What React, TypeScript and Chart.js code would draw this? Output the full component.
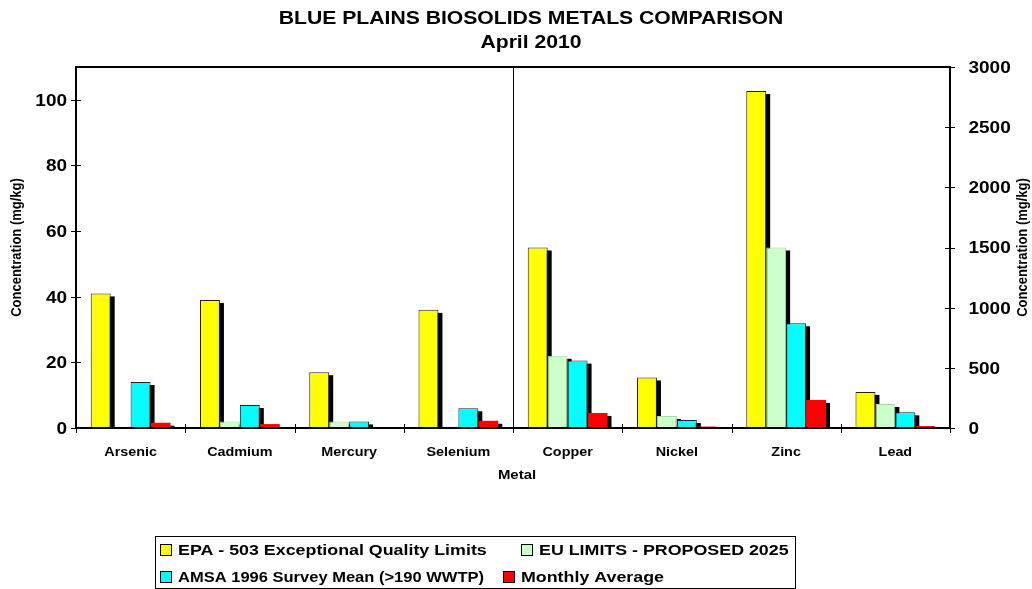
import React, { useEffect, useRef } from 'react';
import { Chart, registerables } from 'chart.js';

Chart.register(...registerables);

// ---------------- data ----------------
const metals = ['Arsenic', 'Cadmium', 'Mercury', 'Selenium', 'Copper', 'Nickel', 'Zinc', 'Lead'];
const leftMetalCount = 4; // first four metals use the left axis, the rest the right axis
const epaLimits = [41, 39, 17, 36, 1500, 420, 2800, 300];
const euLimits = [0, 2, 2, 0, 600, 100, 1500, 200];
const amsaMean = [14, 7, 2, 6, 560, 66, 870, 130];
const monthlyAvg = [1.6, 1.2, 0.2, 2.2, 125, 12, 233, 16];
const seriesNames = [
  'EPA - 503 Exceptional Quality Limits',
  'EU LIMITS - PROPOSED 2025',
  'AMSA 1996 Survey Mean (>190 WWTP)',
  'Monthly Average',
];
const seriesColors = ['#FFFF00', '#CCFFCC', '#00FFFF', '#FF0000'];
const seriesBorders = ['#222222', '#A8D8A8', '#222222', '#FF0000'];
const leftTickValues = [0, 20, 40, 60, 80, 100];
const rightTickValues = [0, 500, 1000, 1500, 2000, 2500, 3000];
const titleLines = ['BLUE PLAINS BIOSOLIDS METALS COMPARISON', 'April 2010'];
const xTitle = 'Metal';
const yTitle = 'Concentration (mg/kg)';

// ---------------- styling ----------------
const SX = 1.15; // horizontal text stretch of the reference
const FONT = "'Liberation Sans', Arial, Helvetica, sans-serif";
const SHADOW_DX = 4;
const SHADOW_DY = 3;

function drawText(
  ctx: CanvasRenderingContext2D,
  s: string,
  x: number,
  y: number,
  size: number,
  align: CanvasTextAlign,
  rotate = false,
  maxWidth?: number
) {
  ctx.save();
  ctx.translate(x, y);
  ctx.scale(SX, 1);
  if (rotate) ctx.rotate(-Math.PI / 2);
  ctx.font = `bold ${size}px ${FONT}`;
  ctx.textAlign = align;
  ctx.textBaseline = 'alphabetic';
  ctx.fillStyle = '#000';
  if (maxWidth !== undefined) ctx.fillText(s, 0, 0, maxWidth / SX);
  else ctx.fillText(s, 0, 0);
  ctx.restore();
}

const shadowPlugin = {
  id: 'barShadow',
  beforeDatasetsDraw(chart: any) {
    const ctx = chart.ctx as CanvasRenderingContext2D;
    ctx.save();
    ctx.fillStyle = '#000';
    chart.data.datasets.forEach((ds: any, di: number) => {
      const meta = chart.getDatasetMeta(di);
      meta.data.forEach((bar: any, i: number) => {
        const v = ds.data[i];
        if (v == null || v === 0) return;
        const p = bar.getProps(['x', 'y', 'base', 'width'], true);
        const h = p.base - p.y - SHADOW_DY;
        if (h <= 0) return;
        ctx.fillRect(p.x - p.width / 2 + SHADOW_DX, p.y + SHADOW_DY, p.width, h);
      });
    });
    ctx.restore();
  },
};

const decorPlugin = {
  id: 'decor',
  afterDraw(chart: any) {
    const ctx = chart.ctx as CanvasRenderingContext2D;
    const { left, right, top, bottom } = chart.chartArea;
    const xs = chart.scales.x;
    const yl = chart.scales.y;
    const yr = chart.scales.y1;
    ctx.save();

    // separator between left-axis and right-axis metals
    const sepX = Math.round((xs.getPixelForValue(leftMetalCount - 1) + xs.getPixelForValue(leftMetalCount)) / 2) + 0.5;
    ctx.strokeStyle = '#000';
    ctx.lineWidth = 1;
    ctx.beginPath();
    ctx.moveTo(sepX, top);
    ctx.lineTo(sepX, bottom);
    ctx.stroke();

    // frame
    ctx.lineWidth = 2;
    ctx.strokeRect(left, top, right - left, bottom - top);

    // tick marks
    ctx.lineWidth = 1;
    ctx.beginPath();
    leftTickValues.forEach((v) => {
      const y = Math.round(yl.getPixelForValue(v)) + 0.5;
      ctx.moveTo(left - 5, y);
      ctx.lineTo(left + 5, y);
    });
    rightTickValues.forEach((v) => {
      const y = Math.round(yr.getPixelForValue(v)) + 0.5;
      ctx.moveTo(right - 5, y);
      ctx.lineTo(right + 5, y);
    });
    const catW = (right - left) / metals.length;
    for (let i = 0; i <= metals.length; i++) {
      const x = Math.round(left + i * catW) + 0.5;
      ctx.moveTo(x, bottom - 4);
      ctx.lineTo(x, bottom + 5);
    }
    ctx.stroke();

    // tick labels
    const tickSize = 16.5;
    leftTickValues.forEach((v) => {
      const y = yl.getPixelForValue(v);
      drawText(ctx, String(v), left - 9, y + tickSize * 0.36, tickSize, 'right');
    });
    rightTickValues.forEach((v) => {
      const y = yr.getPixelForValue(v);
      drawText(ctx, String(v), right + 18.5, y + tickSize * 0.36, tickSize, 'left');
    });

    // category labels
    metals.forEach((m, i) => {
      drawText(ctx, m, xs.getPixelForValue(i), 456, 12.5, 'center');
    });

    // axis titles
    drawText(ctx, xTitle, (left + right) / 2 + 4, 479, 13, 'center');
    const midY = (top + bottom) / 2;
    drawText(ctx, yTitle, 20.5, midY, 13, 'center', true);
    drawText(ctx, yTitle, 1027, midY, 13, 'center', true);

    // chart title
    drawText(ctx, titleLines[0], 531, 24, 18.4, 'center');
    drawText(ctx, titleLines[1], 531, 48, 18.4, 'center');

    // legend
    ctx.lineWidth = 1;
    ctx.strokeStyle = '#000';
    ctx.strokeRect(155.5, 536.5, 640, 52);
    const rows = [
      { y: 549.5, items: [0, 1], xs: [160, 521], widths: [312, 254] },
      { y: 576, items: [2, 3], xs: [160, 503], widths: [306, 160] },
    ];
    const legSize = 15.5;
    rows.forEach((row) => {
      row.items.forEach((k, j) => {
        const sx = row.xs[j];
        ctx.fillStyle = seriesColors[k];
        ctx.fillRect(sx + 0.5, Math.round(row.y - 5.5) + 0.5, 11, 11);
        ctx.strokeStyle = '#000';
        ctx.strokeRect(sx + 0.5, Math.round(row.y - 5.5) + 0.5, 11, 11);
        drawText(ctx, seriesNames[k], sx + 18, row.y + legSize * 0.36, legSize, 'left', false, row.widths[j]);
      });
    });

    ctx.restore();
  },
};

export default function App() {
  const ref = useRef<HTMLCanvasElement>(null);

  useEffect(() => {
    const canvas = ref.current;
    if (!canvas) return;
    const onLeft = (arr: number[]) => arr.map((v, i) => (i < leftMetalCount ? v : null));
    const onRight = (arr: number[]) => arr.map((v, i) => (i >= leftMetalCount ? v : null));
    const series = [epaLimits, euLimits, amsaMean, monthlyAvg];
    const datasets: any[] = [];
    series.forEach((s, k) => {
      const common = {
        label: seriesNames[k],
        backgroundColor: seriesColors[k],
        borderColor: seriesBorders[k],
        borderWidth: k === 3 ? 0 : 1,
        stack: 's' + k,
        barPercentage: 1,
        categoryPercentage: 0.73,
      };
      datasets.push({ ...common, data: onLeft(s), yAxisID: 'y' });
      datasets.push({ ...common, data: onRight(s), yAxisID: 'y1' });
    });

    const hidden = {
      grid: { display: false, drawTicks: false },
      border: { display: false },
      ticks: { display: false },
    };

    const chart = new Chart(canvas, {
      type: 'bar',
      data: { labels: metals, datasets },
      options: {
        responsive: false,
        animation: false,
        devicePixelRatio: 1,
        layout: { padding: { top: 67, bottom: 101, left: 0, right: 0 } },
        plugins: {
          legend: { display: false },
          title: { display: false },
          tooltip: { enabled: false },
        },
        scales: {
          x: {
            ...hidden,
            afterFit: (s: any) => {
              s.height = 60;
            },
          },
          y: {
            ...hidden,
            position: 'left',
            min: 0,
            max: 110,
            ticks: { display: false, stepSize: 20, includeBounds: false },
            afterFit: (s: any) => {
              s.width = 76;
            },
          },
          y1: {
            ...hidden,
            position: 'right',
            min: 0,
            max: 3000,
            ticks: { display: false, stepSize: 500 },
            afterFit: (s: any) => {
              s.width = 82;
            },
          },
        },
      } as any,
      plugins: [shadowPlugin, decorPlugin],
    });
    return () => chart.destroy();
  }, []);

  return (
    <canvas
      ref={ref}
      width={1032}
      height={589}
      style={{ position: 'fixed', left: 0, top: 0, width: 1032, height: 589, background: '#fff' }}
    />
  );
}
